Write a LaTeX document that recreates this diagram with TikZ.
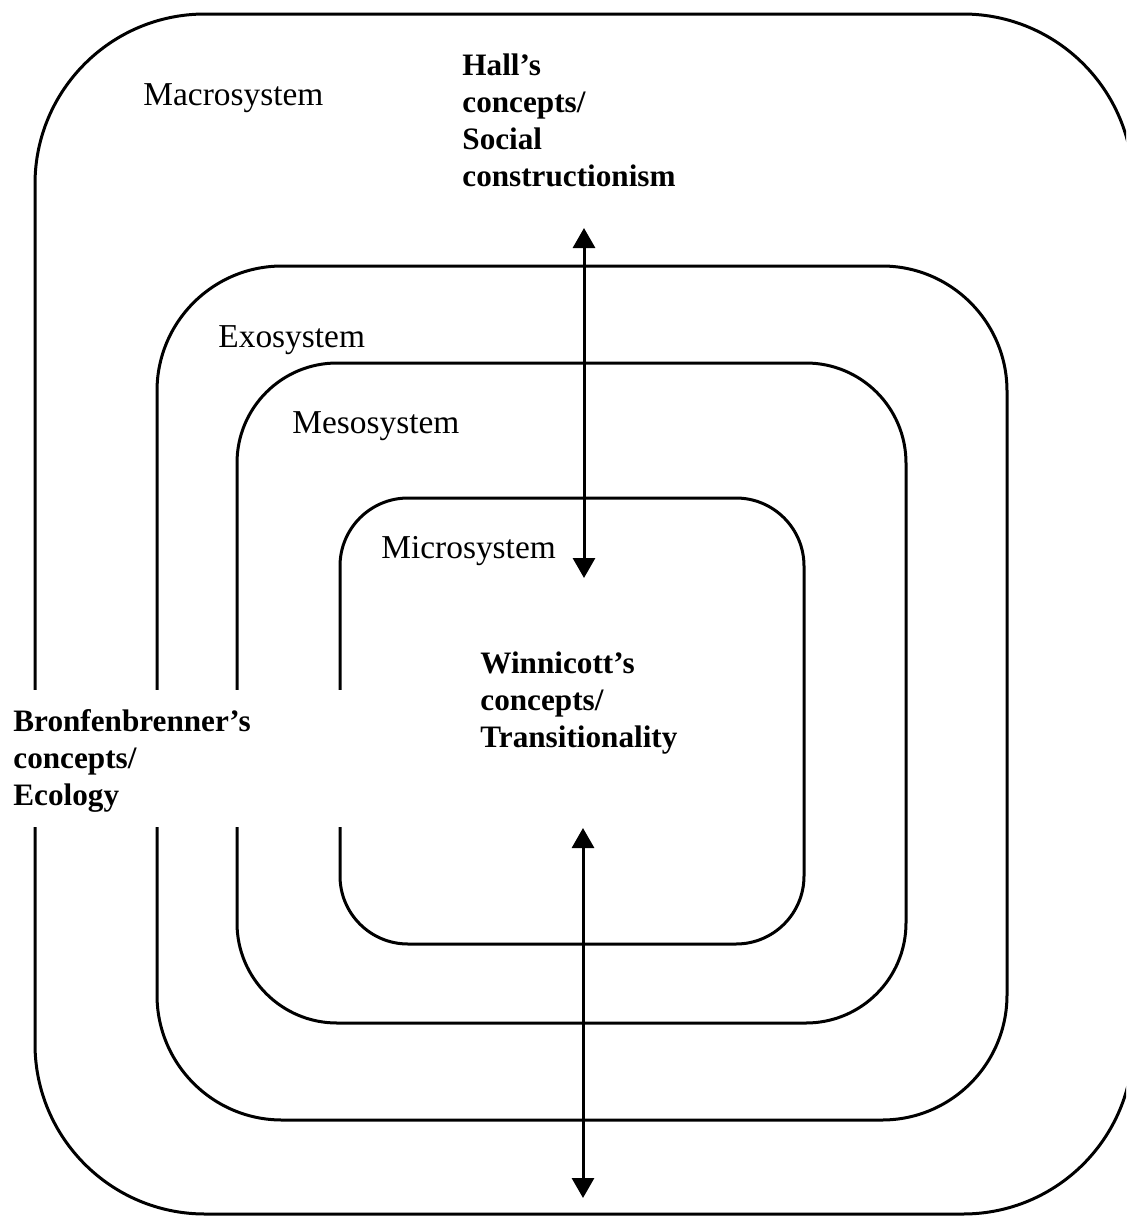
\documentclass[tikz,border=0pt]{standalone}
\usepackage{fontspec}
\setmainfont{Liberation Serif}
\usetikzlibrary{arrows.meta}
\tikzset{
  sysbox/.style={draw=black, line width=1.5pt},
  reglabel/.style={inner sep=0pt, anchor=base west, font=\fontsize{16.7}{19}\selectfont},
  boldlabel/.style={inner sep=0pt, anchor=north west, align=left, font=\fontsize{15.6}{18.5}\selectfont\bfseries},
  dblarrow/.style={line width=1.5pt, {Triangle[width=11pt,length=10pt]}-{Triangle[width=11pt,length=10pt]}}
}
\begin{document}
\begin{tikzpicture}[x=0.5pt, y=-0.5pt]
\useasboundingbox (0,0) rectangle (1126,1216);
\clip (0,0) rectangle (1126,1216);
\fill[white] (0,0) rectangle (1126,1216);
% nested systems
\draw[sysbox, rounded corners=85pt] (35,14) rectangle (1133,1214);
\draw[sysbox, rounded corners=62.5pt] (157,266) rectangle (1007,1120);
\draw[sysbox, rounded corners=50pt] (237,363) rectangle (906,1023);
\draw[sysbox, rounded corners=34pt] (340,498) rectangle (804,944);
% white text box for Bronfenbrenner
\fill[white] (0,690) rectangle (356,827);
% labels
\node[reglabel] (macro) at (143,105) {Macrosystem};
\node[reglabel] (exo) at (218,347) {Exosystem};
\node[reglabel] (meso) at (292,433) {Mesosystem};
\node[reglabel] (micro) at (381,558) {Microsystem};
\node[boldlabel] (hall) at (462,53) {Hall’s\\concepts/\\Social\\constructionism};
\node[boldlabel] (winn) at (480,651) {Winnicott’s\\concepts/\\Transitionality};
\node[boldlabel] (bron) at (13,709) {Bronfenbrenner’s\\concepts/\\Ecology};
% arrows
\coordinate (a1top) at (584,228);
\coordinate (a1bot) at (584,578);
\coordinate (a2top) at (583,828);
\coordinate (a2bot) at (583,1198);
\draw[dblarrow] (a1top) -- (a1bot);
\draw[dblarrow] (a2top) -- (a2bot);
\end{tikzpicture}
\end{document}
